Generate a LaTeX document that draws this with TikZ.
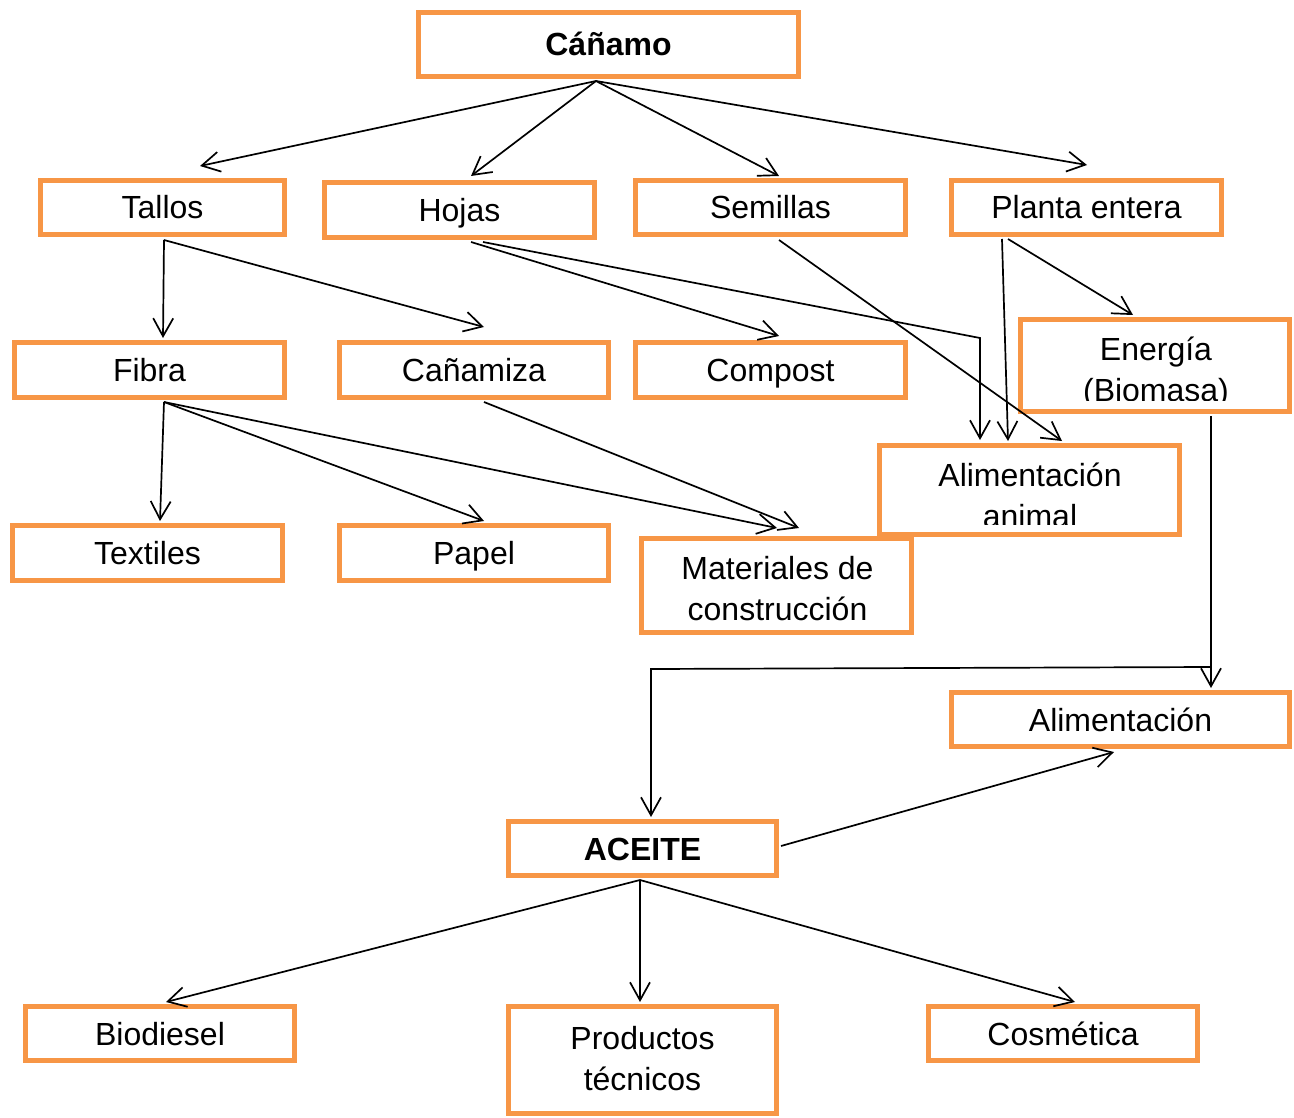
\documentclass[tikz,border=0pt]{standalone}
\usepackage{fontspec}
\setmainfont{Liberation Sans}
\usetikzlibrary{arrows.meta,calc}
\definecolor{boxorange}{RGB}{247,150,70}
\tikzset{
  box/.style={draw=boxorange, line width=5pt, fill=white, rectangle, inner sep=0pt,
    font=\fontsize{32}{41}\selectfont, text height=23pt, text depth=0pt},
  lbl/.style={inner sep=0pt, font=\fontsize{32}{41}\selectfont, text height=23pt, text depth=0pt},
  arr/.style={draw, line width=1.7pt, -{Straight Barb[length=18pt,width=20pt]}},
  ln/.style={draw, line width=1.7pt}
}
\newcommand\bx[6]{\node[box, minimum width={(#4-#2-5)*1pt}, minimum height={(#5-#3-5)*1pt}] (#1) at ({(#2+#4)/2},{(#3+#5)/2}) {#6};}
\begin{document}
\begin{tikzpicture}[x=1pt,y=-1pt]
\useasboundingbox (0,0) rectangle (1294,1118);
% boxes
\bx{canamo}{416}{10}{801}{79}{\bfseries Cáñamo}
\bx{tallos}{38}{178}{287}{237}{Tallos}
\bx{hojas}{322}{180}{597}{240}{Hojas}
\bx{semillas}{633}{178}{908}{237}{Semillas}
\bx{planta}{949}{178}{1224}{237}{Planta entera}
\bx{fibra}{12}{340}{287}{400}{Fibra}
\bx{canamiza}{337}{340}{611}{400}{Cañamiza}
\bx{compost}{633}{340}{908}{400}{Compost}
\bx{energia}{1018}{317}{1292}{414}{}
\begin{scope}
  \clip (1021,320) rectangle (1289,400);
  \node[lbl] (energiaA) at (1156,349) {Energía};
  \node[lbl] (energiaB) at (1156,390) {(Biomasa)};
\end{scope}
\bx{alimanimal}{877}{443}{1182}{537}{}
\begin{scope}
  \clip (880,446) rectangle (1179,524);
  \node[lbl] (alimanimalA) at (1030,475) {Alimentación};
  \node[lbl] (alimanimalB) at (1030,516) {animal};
\end{scope}
\bx{textiles}{10}{523}{285}{583}{Textiles}
\bx{papel}{337}{523}{611}{583}{Papel}
\bx{materiales}{639}{536}{914}{635}{}
\node[lbl] (materialesA) at (777.5,568) {Materiales de};
\node[lbl] (materialesB) at (777.5,609) {construcción};
\bx{alimentacion}{949}{690}{1292}{749}{Alimentación}
\bx{aceite}{506}{819}{779}{878}{\bfseries ACEITE}
\bx{biodiesel}{23}{1004}{297}{1063}{Biodiesel}
\bx{productos}{506}{1004}{779}{1116}{}
\node[lbl] (productosA) at (642.5,1037.5) {Productos};
\node[lbl] (productosB) at (642.5,1079) {técnicos};
\bx{cosmetica}{926}{1004}{1200}{1063}{Cosmética}
% connectors
\draw[arr] ($(canamo.south)+(-12.5,2)$) -- ($(tallos.north)+(37.5,-12)$);
\draw[arr] ($(canamo.south)+(-12.5,2)$) -- ($(hojas.north)+(11.5,-4)$);
\draw[arr] ($(canamo.south)+(-12.5,2)$) -- ($(semillas.north)+(8.5,-2)$);
\draw[arr] ($(canamo.south)+(-12.5,2)$) -- ($(planta.north)+(0.5,-13)$);
\draw[arr] ($(tallos.south)+(1.5,3)$) -- ($(fibra.north)+(13.5,-2)$);
\draw[arr] ($(tallos.south)+(1.5,3)$) -- ($(canamiza.north)+(10,-13)$);
\draw[arr] ($(hojas.south)+(11.5,2)$) -- ($(compost.north)+(8.5,-4)$);
\draw[arr] ($(hojas.south)+(23.5,2)$) -- ($(alimanimal.north)+(-49.5,-105)$) -- ($(alimanimal.north)+(-49.5,-3)$);
\draw[arr] ($(semillas.south)+(8.5,3)$) -- ($(alimanimal.north)+(32.5,-2)$);
\draw[arr] ($(planta.south)+(-84.5,2)$) -- ($(alimanimal.north)+(-21.5,-2)$);
\draw[arr] ($(planta.south)+(-78.5,2)$) -- ($(energia.north)+(-22,-2)$);
\draw[arr] ($(fibra.south)+(14.5,2)$) -- ($(textiles.north)+(12.5,-2)$);
\draw[arr] ($(fibra.south)+(14.5,2)$) -- ($(papel.north)+(10,-2)$);
\draw[arr] ($(fibra.south)+(14.5,2)$) -- ($(materiales.north)+(0.5,-8)$);
\draw[arr] ($(canamiza.south)+(10,2)$) -- ($(materiales.north)+(22.5,-8)$);
\coordinate (junc) at ($(energia.south)+(56,253)$);
\draw[arr] ($(energia.south)+(56,2)$) -- ($(alimentacion.north)+(90.5,-2)$);
\draw[arr] (junc) -- ($(aceite.north)+(8.5,-150)$) -- ($(aceite.north)+(8.5,-2)$);
\draw[arr] ($(aceite.east)+(2,-2.5)$) -- ($(alimentacion.south)+(-6.5,3)$);
\draw[arr] ($(aceite.south)+(-2.5,2)$) -- ($(biodiesel.north)+(6,-2)$);
\draw[arr] ($(aceite.south)+(-2.5,2)$) -- ($(productos.north)+(-2.5,-2)$);
\draw[arr] ($(aceite.south)+(-2.5,2)$) -- ($(cosmetica.north)+(12,-2)$);
\end{tikzpicture}
\end{document}
